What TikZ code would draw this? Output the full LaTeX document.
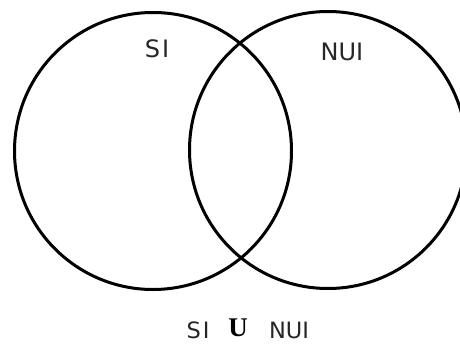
\documentclass[tikz,border=0pt]{standalone}
\usepackage{fontspec}
\newfontfamily\vennsans{DejaVu Sans}
\newfontfamily\vennserif{Liberation Serif}

\begin{document}
\begin{tikzpicture}[x=1pt, y=-1pt]
  \useasboundingbox (0,0) rectangle (460,343);

  % two overlapping sets, the right one runs off the edge
  \begin{scope}
    \clip (0,0) rectangle (460,343);
    \node[draw, circle, line width=3pt, minimum size=277pt, inner sep=0pt] (setsi) at (153,151) {};
    \node[draw, circle, line width=3pt, minimum size=277pt, inner sep=0pt] (setnui) at (328,150) {};
  \end{scope}

  \node[anchor=base, inner sep=0pt, text depth=0pt, font=\vennsans\fontsize{24}{26}\selectfont, text=black!85] (labsi) at (157,57) {S\kern2pt I};
  \node[anchor=base, inner sep=0pt, text depth=0pt, font=\vennsans\fontsize{24}{26}\selectfont, text=black!85] (labnui) at (342,60) {NUI};

  \node[anchor=base, inner sep=0pt, text depth=0pt, font=\vennserif\bfseries\fontsize{27}{30}\selectfont] (union) at (238,336) {U};
  \node[anchor=base, inner sep=0pt, text depth=0pt, font=\vennsans\fontsize{22.5}{25}\selectfont, text=black!85] (botsi) at (198,338) {S\kern2pt I};
  \node[anchor=base, inner sep=0pt, text depth=0pt, font=\vennsans\fontsize{22.5}{25}\selectfont, text=black!85] (botnui) at (289,338) {NUI};
\end{tikzpicture}
\end{document}
